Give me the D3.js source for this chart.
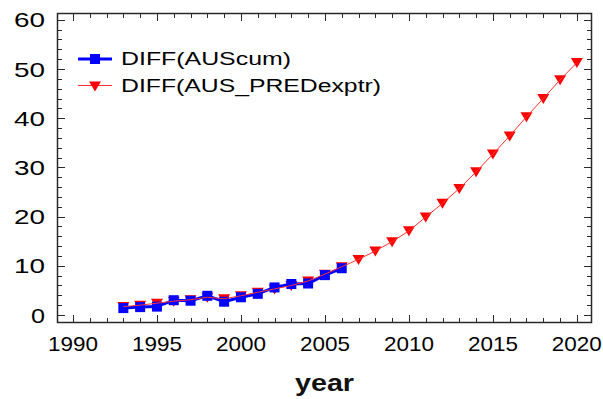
<!DOCTYPE html>
<html>
<head>
<meta charset="utf-8">
<script src="https://cdn.jsdelivr.net/npm/d3@7"></script>
<style>
  html, body { margin: 0; padding: 0; background: #fff; }
  svg { display: block; font-family: "Liberation Sans", Arial, sans-serif; }
</style>
</head>
<body>
<svg id="chart" width="603" height="399"></svg>
<script>
// Observed cumulative differences (1993–2006)
const obsYears = [1993,1994,1995,1996,1997,1998,1999,2000,2001,2002,2003,2004,2005,2006];
const obsValues = [1.4,1.6,1.7,3.0,2.9,3.9,2.7,3.6,4.3,5.6,6.3,6.4,8.1,9.5];

// Predicted differences (1993–2020)
const predYears = [1993,1994,1995,1996,1997,1998,1999,2000,2001,2002,2003,2004,2005,2006,
                   2007,2008,2009,2010,2011,2012,2013,2014,2015,2016,2017,2018,2019,2020];
const predValues = [1.7,2.0,2.4,2.8,3.1,3.6,3.3,3.9,4.6,5.3,6.0,6.9,8.3,9.8,
                    11.3,13.0,14.9,17.1,19.9,22.7,25.7,29.1,32.7,36.4,40.3,44.0,47.8,51.3];

const seriesNames = ["DIFF(AUScum)", "DIFF(AUS_PREDexptr)"];
const xTickValues = [1990,1995,2000,2005,2010,2015,2020];
const yTickValues = [0,10,20,30,40,50,60];
const xLabel = "year";

const svg = d3.select("#chart");
const plot = { left: 57, right: 592, top: 13, bottom: 323 };

const x = d3.scaleLinear().domain([1989.05, 2020.9]).range([plot.left, plot.right]);
const y = d3.scaleLinear().domain([-1.63, 61.38]).range([plot.bottom, plot.top]);

const frameColor = "#2a2a2a";

// Inward-facing ticks on all four sides
const xMinor = d3.range(1990, 2021, 1);
const yMinor = d3.range(0, 61, 2);

const ticks = svg.append("g").attr("stroke", frameColor).attr("stroke-width", 1);
xMinor.forEach(v => {
  const len = v % 5 === 0 ? 8 : 5;
  const px = Math.round(x(v)) + 0.5;
  ticks.append("line").attr("x1", px).attr("x2", px).attr("y1", plot.bottom).attr("y2", plot.bottom - len);
  ticks.append("line").attr("x1", px).attr("x2", px).attr("y1", plot.top).attr("y2", plot.top + len);
});
yMinor.forEach(v => {
  const len = v % 10 === 0 ? 8 : 5;
  const py = Math.round(y(v)) + 0.5;
  ticks.append("line").attr("x1", plot.left).attr("x2", plot.left + len).attr("y1", py).attr("y2", py);
  ticks.append("line").attr("x1", plot.right).attr("x2", plot.right - len).attr("y1", py).attr("y2", py);
});

// Frame
svg.append("rect")
  .attr("x", plot.left + 0.5).attr("y", plot.top + 0.5)
  .attr("width", plot.right - plot.left - 1).attr("height", plot.bottom - plot.top - 1)
  .attr("fill", "none").attr("stroke", frameColor).attr("stroke-width", 1.5);

// Tick labels (wide lettering)
svg.append("g").selectAll("text").data(yTickValues).join("text")
  .attr("x", 45).attr("y", d => y(d)).attr("dy", "0.36em")
  .attr("text-anchor", "end").attr("font-size", 21).attr("fill", "#000")
  .attr("textLength", d => String(d).length === 1 ? 14 : 31)
  .attr("lengthAdjust", "spacingAndGlyphs")
  .text(d => d);

svg.append("g").selectAll("text").data(xTickValues).join("text")
  .attr("x", d => x(d)).attr("y", 351)
  .attr("text-anchor", "middle").attr("font-size", 21).attr("fill", "#000")
  .attr("textLength", 50).attr("lengthAdjust", "spacingAndGlyphs")
  .text(d => d);

svg.append("text")
  .attr("x", (plot.left + plot.right) / 2).attr("y", 391)
  .attr("text-anchor", "middle").attr("font-size", 24).attr("font-weight", "bold").attr("fill", "#111")
  .attr("textLength", 59).attr("lengthAdjust", "spacingAndGlyphs")
  .text(xLabel);

// Series
const obs = obsYears.map((t, i) => [t, obsValues[i]]);
const pred = predYears.map((t, i) => [t, predValues[i]]);
const line = d3.line().x(d => x(d[0])).y(d => y(d[1]));

// downward triangle, centred on the point
const triPath = "M-6,-4.5L6,-4.5L0,5.5Z";

// predicted markers
svg.append("g").selectAll("path").data(pred).join("path")
  .attr("d", triPath)
  .attr("transform", d => `translate(${x(d[0])},${y(d[1])})`)
  .attr("fill", "#ff0000");

// observed line + squares
svg.append("path").datum(obs).attr("d", line)
  .attr("fill", "none").attr("stroke", "#0000ff").attr("stroke-width", 3);
svg.append("g").selectAll("rect").data(obs).join("rect")
  .attr("x", d => x(d[0]) - 5).attr("y", d => y(d[1]) - 5)
  .attr("width", 10).attr("height", 10)
  .attr("fill", "#0000ff");

// predicted thin line on top
svg.append("path").datum(pred).attr("d", line)
  .attr("fill", "none").attr("stroke", "#ff3030").attr("stroke-width", 1);

// Legend
const lg = svg.append("g");
lg.append("line").attr("x1", 78).attr("x2", 112).attr("y1", 59).attr("y2", 59)
  .attr("stroke", "#0000ff").attr("stroke-width", 3);
lg.append("rect").attr("x", 90).attr("y", 54).attr("width", 10).attr("height", 10).attr("fill", "#0000ff");
lg.append("text").attr("x", 121).attr("y", 65).attr("font-size", 18).attr("fill", "#000")
  .attr("textLength", 170).attr("lengthAdjust", "spacingAndGlyphs").text(seriesNames[0]);

lg.append("line").attr("x1", 78).attr("x2", 112).attr("y1", 85.5).attr("y2", 85.5)
  .attr("stroke", "#ff3030").attr("stroke-width", 1);
lg.append("path").attr("d", triPath).attr("transform", "translate(95,86)").attr("fill", "#ff0000");
lg.append("text").attr("x", 121).attr("y", 92).attr("font-size", 18).attr("fill", "#000")
  .attr("textLength", 260).attr("lengthAdjust", "spacingAndGlyphs").text(seriesNames[1]);
</script>
</body>
</html>
